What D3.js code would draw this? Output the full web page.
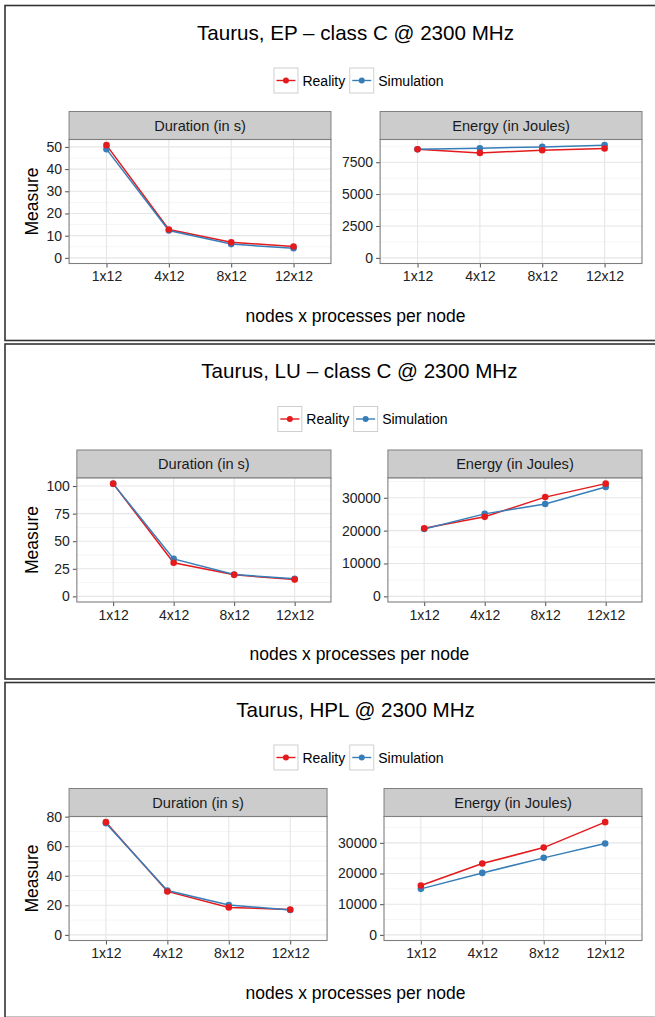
<!DOCTYPE html>
<html lang="en">
<head>
<meta charset="UTF-8">
<title>Taurus energy and duration</title>
<script src="https://d3js.org/d3.v7.min.js"></script>
<style>
  body { margin: 0; background: #fff; font-family: "Liberation Sans", Arial, sans-serif; }
  svg text { font-family: "Liberation Sans", Arial, sans-serif; }
</style>
</head>
<body>
<svg id="chart" width="655" height="1017"></svg>
<script>
// categories on the x axis
const categories = ["1x12", "4x12", "8x12", "12x12"];
const seriesNames = ["Reality", "Simulation"];
const facetNames = ["Duration (in s)", "Energy (in Joules)"];
const figTitles = [
  "Taurus, EP \u2013 class C @ 2300 MHz",
  "Taurus, LU \u2013 class C @ 2300 MHz",
  "Taurus, HPL @ 2300 MHz"
];

// EP
const epDurationReality = [50.8, 12.8, 7.0, 5.1];
const epDurationSim     = [49.0, 12.3, 6.2, 4.3];
const epEnergyReality   = [8520, 8230, 8440, 8580];
const epEnergySim       = [8520, 8600, 8700, 8840];
// LU
const luDurationReality = [102.2, 30.5, 19.5, 15.2];
const luDurationSim     = [102.0, 34.0, 19.8, 16.0];
const luEnergyReality   = [20700, 24200, 30200, 34300];
const luEnergySim       = [20500, 25100, 28100, 33300];
// HPL
const hplDurationReality = [76.3, 29.4, 18.6, 17.2];
const hplDurationSim     = [75.5, 30.0, 20.2, 16.8];
const hplEnergyReality   = [16100, 23250, 28450, 36750];
const hplEnergySim       = [15000, 20200, 25100, 29800];

// y axis breaks
const epDurationTicks  = [0, 10, 20, 30, 40, 50];
const epEnergyTicks    = [0, 2500, 5000, 7500];
const luDurationTicks  = [0, 25, 50, 75, 100];
const luEnergyTicks    = [0, 10000, 20000, 30000];
const hplDurationTicks = [0, 20, 40, 60, 80];
const hplEnergyTicks   = [0, 10000, 20000, 30000];

const figures = [
  { title: figTitles[0], top: 5.5,
    panels: [[epDurationReality, epDurationSim, epDurationTicks], [epEnergyReality, epEnergySim, epEnergyTicks]] },
  { title: figTitles[1], top: 344,
    panels: [[luDurationReality, luDurationSim, luDurationTicks], [luEnergyReality, luEnergySim, luEnergyTicks]] },
  { title: figTitles[2], top: 682.5,
    panels: [[hplDurationReality, hplDurationSim, hplDurationTicks], [hplEnergyReality, hplEnergySim, hplEnergyTicks]] }
];

const colors = ["#E41A1C", "#377EB8"];
const svg = d3.select("#chart");
const rightEdge = 642;
const tickFont = 14;

function textWidth(str, size) {
  const t = svg.append("text").attr("font-size", size).text(str);
  const w = t.node().getComputedTextLength();
  t.remove();
  return w;
}

figures.forEach(fig => {
  const T = fig.top;
  const g = svg.append("g");

  g.append("rect")
    .attr("x", 5).attr("y", T)
    .attr("width", 660).attr("height", 335)
    .attr("fill", "none").attr("stroke", "#333").attr("stroke-width", 1.6);

  // widths of the y labels decide where panels start
  const labW = fig.panels.map(p => d3.max(p[2], v => textWidth(String(v), tickFont)));
  const leftStart = 46.5 + labW[0] + 7;
  const gap = 11 + labW[1] + 7;
  const pw = (rightEdge - leftStart - gap) / 2;
  const xs = [leftStart, leftStart + pw + gap];
  const plotTop = T + 134, plotBottom = T + 258;
  const center = (leftStart + rightEdge) / 2;

  // title
  g.append("text")
    .attr("x", center).attr("y", T + 34)
    .attr("text-anchor", "middle").attr("font-size", 20.6).attr("fill", "#000")
    .text(fig.title);

  // legend
  const lw = seriesNames.map(s => textWidth(s, 14));
  const legW = 2 * (25 + 4) + lw[0] + 4 + lw[1];
  let lx = center + 3 - legW / 2;
  seriesNames.forEach((s, i) => {
    const kg = g.append("g").attr("transform", `translate(${lx},${T + 62})`);
    kg.append("rect").attr("x", 0.5).attr("y", 0.5).attr("width", 24).attr("height", 25)
      .attr("fill", "#fff").attr("stroke", "#cfcfcf").attr("stroke-width", 1);
    kg.append("line").attr("x1", 3).attr("x2", 22).attr("y1", 13).attr("y2", 13)
      .attr("stroke", colors[i]).attr("stroke-width", 1.4);
    kg.append("circle").attr("cx", 12.5).attr("cy", 13).attr("r", 3).attr("fill", colors[i]);
    kg.append("text").attr("x", 29).attr("y", 18).attr("font-size", 14).attr("fill", "#000").text(s);
    lx += 25 + 4 + lw[i] + 4;
  });

  // axis titles
  g.append("text")
    .attr("transform", `translate(38,${(plotTop + plotBottom) / 2}) rotate(-90)`)
    .attr("text-anchor", "middle").attr("font-size", 17.5).attr("fill", "#000")
    .text("Measure");
  g.append("text")
    .attr("x", center).attr("y", T + 316)
    .attr("text-anchor", "middle").attr("font-size", 17.5).attr("fill", "#000")
    .text("nodes x processes per node");

  fig.panels.forEach((p, pi) => {
    const [real, sim, ticks] = p;
    const x0 = xs[pi];
    const x = d3.scalePoint().domain(categories).range([x0, x0 + pw]).padding(0.6);
    const maxV = d3.max(real.concat(sim, [0]));
    const span = maxV - 0;
    const y = d3.scaleLinear().domain([0 - 0.05 * span, maxV + 0.05 * span]).range([plotBottom, plotTop]);

    // strip
    g.append("rect").attr("x", x0).attr("y", T + 106).attr("width", pw).attr("height", 28)
      .attr("fill", "#cccccc").attr("stroke", "#7f7f7f").attr("stroke-width", 1);
    g.append("text").attr("x", x0 + pw / 2).attr("y", T + 125)
      .attr("text-anchor", "middle").attr("font-size", 14.6).attr("fill", "#1a1a1a")
      .text(facetNames[pi]);

    // panel background
    g.append("rect").attr("x", x0).attr("y", plotTop).attr("width", pw).attr("height", plotBottom - plotTop)
      .attr("fill", "#fff");

    // minor grid
    const step = ticks[1] - ticks[0];
    const minors = [];
    for (let i = 0; i <= ticks.length; i++) {
      const m = ticks[0] + step * (i - 0.5);
      if (m > y.domain()[0] && m < y.domain()[1]) minors.push(m);
    }
    g.append("g").selectAll("line").data(minors).join("line")
      .attr("x1", x0).attr("x2", x0 + pw)
      .attr("y1", d => y(d)).attr("y2", d => y(d))
      .attr("stroke", "#f5f5f5").attr("stroke-width", 1);

    // major grid
    g.append("g").selectAll("line").data(ticks).join("line")
      .attr("x1", x0).attr("x2", x0 + pw)
      .attr("y1", d => y(d)).attr("y2", d => y(d))
      .attr("stroke", "#e6e6e6").attr("stroke-width", 1.1);
    g.append("g").selectAll("line").data(categories).join("line")
      .attr("x1", d => x(d)).attr("x2", d => x(d))
      .attr("y1", plotTop).attr("y2", plotBottom)
      .attr("stroke", "#e6e6e6").attr("stroke-width", 1.1);

    // axes
    const yAxis = g.append("g").attr("transform", `translate(${x0},0)`)
      .call(d3.axisLeft(y).tickValues(ticks).tickSize(4).tickPadding(3).tickFormat(d3.format("d")));
    yAxis.select(".domain").remove();
    yAxis.selectAll("line").attr("stroke", "#4d4d4d");
    yAxis.selectAll("text").attr("font-size", tickFont).attr("fill", "#222")
      .attr("font-family", "Liberation Sans, Arial, sans-serif");

    const xAxis = g.append("g").attr("transform", `translate(0,${plotBottom})`)
      .call(d3.axisBottom(x).tickSize(4).tickPadding(4));
    xAxis.select(".domain").remove();
    xAxis.selectAll("line").attr("stroke", "#4d4d4d");
    xAxis.selectAll("text").attr("font-size", tickFont).attr("fill", "#222")
      .attr("font-family", "Liberation Sans, Arial, sans-serif");

    // lines and points
    const line = d3.line().x((d, i) => x(categories[i])).y(d => y(d));
    [real, sim].forEach((vals, si) => {
      g.append("path").datum(vals).attr("d", line)
        .attr("fill", "none").attr("stroke", colors[si]).attr("stroke-width", 1.5);
    });
    [sim, real].forEach((vals, k) => {
      const si = k === 0 ? 1 : 0;
      g.append("g").selectAll("circle").data(vals).join("circle")
        .attr("cx", (d, i) => x(categories[i])).attr("cy", d => y(d))
        .attr("r", 3.3).attr("fill", colors[si]);
    });

    // panel border
    g.append("rect").attr("x", x0).attr("y", plotTop).attr("width", pw).attr("height", plotBottom - plotTop)
      .attr("fill", "none").attr("stroke", "#7f7f7f").attr("stroke-width", 1.1);
  });
});
</script>
</body>
</html>
